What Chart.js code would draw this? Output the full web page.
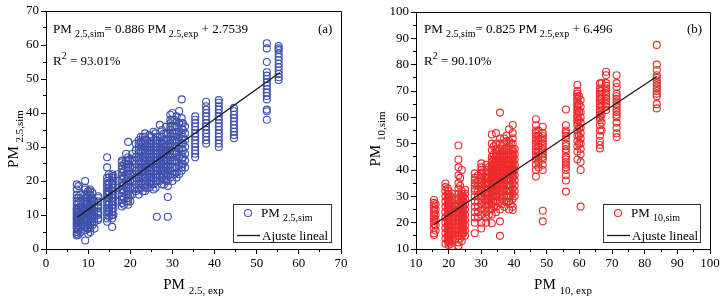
<!DOCTYPE html>
<html><head><meta charset="utf-8">
<script src="https://cdn.jsdelivr.net/npm/chart.js@4/dist/chart.umd.min.js"></script>
<style>
html,body{margin:0;padding:0;background:#fff;}
#wrap{position:relative;width:724px;height:302px;overflow:hidden;}
.c{position:absolute;top:0;width:362px;height:302px;}
</style></head><body>
<div id="wrap">
<div class="c" style="left:0"><canvas id="ca" width="362" height="302"></canvas></div>
<div class="c" style="left:362px"><canvas id="cb" width="362" height="302"></canvas></div>
</div>
<script>
// ---------- Panel (a): PM2.5 ----------
const pm25ExpCols = [7.3, 7.7, 9.3, 9.8, 10.5, 11, 12.4, 14.5, 15, 15.7, 16, 18, 18.5, 19.5, 20, 22, 22.5, 23.5, 24.5, 25.5, 26.3, 27, 28, 28.9, 29.5, 30, 31, 32.2, 33, 35.4, 38, 41, 44.6, 52.4, 55.2,
  8.2, 10, 11.5, 14.9, 17, 19, 20.5, 21.3, 23, 24, 25, 26, 27.5, 28.5, 30.5, 31.6, 32.5];
const pm25SimCols = [
  [4, 4.5, 5, 6, 6.5, 7, 7.5, 8, 8.5, 9, 9.5, 10, 10.5, 11, 11.5, 12, 13, 14, 15, 16, 17.5, 19],
  [4.2, 5.5, 7, 8, 9, 10, 11, 12, 13.5, 15, 18.5],
  [2.5, 5.5, 6.5, 7, 8, 8.5, 9, 9.5, 10, 10.5, 11, 11.5, 12, 12.5, 13, 14, 15, 16, 17.5, 18, 20],
  [6, 7, 8, 9, 10, 11, 12, 13, 14, 15, 16],
  [5, 6, 7, 8, 9, 9.5, 10, 10.5, 11, 12, 13, 14, 15, 16, 17, 17.5],
  [7, 8, 9, 10, 11, 12, 13, 14, 15, 16.5],
  [8.5, 9, 10, 10.5, 11, 12, 12.5, 13, 14, 15, 15.5],
  [8, 9, 10, 11, 12, 13, 14, 15, 16, 17, 18, 19, 20, 21, 24, 27],
  [9.5, 10.5, 12, 13.5, 15, 16.5, 18, 19.5, 21],
  [6.5, 9, 10, 11, 12, 13, 14, 15, 16, 17, 18, 19, 20, 21, 22],
  [10, 12, 14, 16, 18, 20, 21.5],
  [12.5, 13.5, 14.5, 15.5, 16.5, 17.5, 18.5, 19.5, 20.5, 21.5, 22.5, 23.5, 24.5, 25.5, 26],
  [13, 15, 17, 19, 21, 23, 25],
  [13, 14, 15, 16, 17, 18, 19, 20, 21, 22, 23, 24, 25, 26, 27, 31.5],
  [14, 16, 18, 20, 22, 24, 26.5],
  [16, 17.5, 18, 19, 20, 21, 22, 23, 24, 25, 26, 27, 28, 29, 30, 31, 32],
  [18, 19.5, 21, 22.5, 24, 25.5, 27, 28.5, 30, 31.5, 33],
  [17, 18, 19, 20, 21, 22, 23, 24, 25, 26, 27, 28, 29, 30, 31, 32, 33, 34],
  [18, 19.5, 21, 22, 23, 24, 25, 26, 27, 28, 29, 30, 31, 33.5],
  [17.5, 19, 20, 21, 22, 23, 24, 25, 26, 27, 28, 29, 30, 31, 32, 34.5],
  [9.5, 20, 21, 22, 23, 24, 25, 26, 27, 28, 29, 30, 31, 32, 33],
  [20, 21.5, 23, 24, 25, 26, 27, 28, 29, 30, 31.5, 33, 36.5],
  [19, 20.5, 22, 23, 24, 25, 26, 27, 28, 29, 30, 31, 32, 34],
  [9.5, 15.3, 18.5, 20, 21.5, 23, 24.5, 26, 27.5, 29, 30.5, 32, 34],
  [21, 22, 23, 24, 25, 26, 27, 28, 29, 30, 31, 32, 33, 34, 35, 36, 37, 38, 39.5],
  [20, 22, 24, 26, 28, 30, 32, 34, 36, 38, 40],
  [21, 22.5, 24, 25.5, 27, 28.5, 30, 31.5, 33, 34.5, 36, 37.5, 39],
  [23, 24, 25, 26.5, 28, 29.5, 31, 32.5, 34, 35.5, 37, 38.5, 44],
  [24, 26, 28, 30, 32, 34, 36],
  [27, 28, 29, 30, 31, 32, 33, 34, 35, 36, 37, 38, 39],
  [31, 32, 33, 34, 35, 36, 37, 38, 39, 40, 41, 42, 43.3],
  [30, 31, 32, 33, 34, 35, 36, 37, 38, 39, 40, 41, 42, 43, 43.8],
  [32.6, 33.5, 34.5, 35.5, 36.5, 37.5, 38.5, 39.5, 40.5, 41.5],
  [38, 40.5, 41, 44, 45, 46, 47, 48, 49, 50, 51, 52, 55, 59, 60.5],
  [49.7, 50.5, 51.5, 52.5, 53.5, 54.5, 55.5, 56.5, 57.5, 58.5, 59, 59.7],
  [5, 6.5, 8, 9.5, 11, 12.5, 14, 16],
  [4.5, 6, 7.5, 9, 10.5, 12, 13.5, 15, 17],
  [6, 8, 9.5, 11, 12.5, 14],
  [11, 13, 15, 17, 19, 22],
  [14, 16, 18, 20, 22],
  [14, 16, 18, 20, 22, 24, 26, 28],
  [16, 18, 20, 22, 24, 26, 28],
  [17, 19, 21, 23, 25, 27, 29, 31],
  [17, 19, 21, 23, 25, 27, 29, 31, 33],
  [18, 20, 22, 24, 26, 28, 30, 32],
  [19, 21, 23, 25, 27, 29, 31, 33],
  [18, 20, 22, 24, 26, 28, 30, 32, 34],
  [19, 21, 23, 25, 27, 29, 31, 33, 35],
  [20, 22, 24, 26, 28, 30, 32, 34, 36],
  [22, 24, 26, 28, 30, 32, 34, 36, 38],
  [22, 24.5, 27, 29.5, 32, 34.5, 37, 40.6],
  [25, 27, 29, 31, 33, 35, 37]
];
const pm25FitX = [7.4, 55.5];
const pm25FitY = [9.3, 51.9];
const pm25Ticks = [0, 10, 20, 30, 40, 50, 60, 70];

// ---------- Panel (b): PM10 ----------
const pm10ExpCols = [15.5, 19, 20, 21, 23, 24, 25, 28, 30, 31.5, 33.2, 34.5, 35.7, 37, 38.5, 39.6, 46.7, 48.8, 55.9, 59.4, 60.4, 66.3, 68.2, 71.4, 83.7,
  16, 19.7, 20.6, 22, 23.5, 24.5, 29, 32.3, 33.8, 36.3, 37.7, 39, 40.2, 47.5, 59.9, 66.8];
const pm10SimCols = [
  [15.3, 16, 18, 19.5, 20.5, 21.5, 22.5, 23.5, 24.5, 25.5, 26.5, 27.5, 28.6],
  [12, 14, 16, 18, 20, 22, 24, 26, 28, 30, 32, 33.5, 34.9],
  [11.5, 12.5, 13.5, 14.5, 15.5, 16.5, 17.5, 18.5, 19.5, 20.5, 21.5, 22.5, 23.5, 24.5, 25.5, 26.5, 27.5, 28.5, 29.5, 30.5, 32],
  [11, 13, 15, 17, 19, 21, 23, 25, 27, 29, 31],
  [11.2, 12.5, 15, 17, 19, 21, 23, 25, 27, 29, 31, 33, 35, 38, 41, 44, 49.3],
  [13, 15, 16, 17, 18, 19, 20, 21, 22, 23, 24, 25, 26, 27, 28, 29, 30, 31, 32, 40],
  [15, 17, 19, 21, 23, 25, 27, 29, 31, 32.5],
  [16, 20, 22, 24, 26, 28, 30, 32, 33, 34, 35, 36, 37, 38.7],
  [17.8, 20, 23, 25, 27, 29, 30, 31, 32, 33, 34, 35, 36, 37, 38, 39, 40, 41, 42.5],
  [20, 22, 24, 26, 27, 28, 29, 30, 31, 32, 33, 34, 35, 36, 37, 38, 40, 42],
  [19.8, 23, 25, 27, 29, 30, 31, 32, 33, 34, 35, 36, 37, 38, 39, 40, 41, 42, 43, 44, 45, 47.6, 50, 53.5],
  [24, 26, 28, 30, 31, 32, 33, 34, 35, 36, 37, 38, 39, 40, 41, 42, 43, 44, 45, 46, 47, 48, 50, 54],
  [15, 20.5, 25, 28, 30, 32, 34, 36, 38, 40, 42, 44, 46, 48, 50, 52, 61.8],
  [26, 28, 30, 32, 33, 34, 35, 36, 37, 38, 39, 40, 41, 42, 43, 44, 45, 46, 47, 48, 50, 52],
  [25, 28, 30, 32, 34, 36, 37, 38, 39, 40, 41, 42, 43, 44, 45, 47, 49, 51, 55.5],
  [24.8, 26, 29, 31, 33, 35, 37, 38, 39, 40, 41, 42, 43, 44, 45, 46, 47, 48, 50, 52, 54, 57.1],
  [37.5, 40, 42, 44, 45, 46, 47, 48, 49, 50, 51, 52, 53, 54, 55, 57, 59.3],
  [20.5, 24.5, 40, 42, 44, 45, 46, 47, 48, 49, 50, 51, 52, 53, 54, 56.4],
  [31.8, 36, 38, 40, 41, 42, 43, 44, 45, 47, 48, 49, 50, 52, 53, 54, 55, 57, 63],
  [44, 47, 49, 51, 53, 55, 57, 58, 59, 60, 61, 62, 63, 64, 65, 66, 67, 68, 69, 70, 72.3],
  [26.1, 40, 43, 46, 48, 50, 52, 54, 56, 58, 60, 62, 64, 66.6],
  [48.2, 49.5, 51, 53, 55, 57, 59, 60, 61, 62, 63, 64, 65, 66, 67, 68, 69, 70, 71, 72.9],
  [62.8, 64, 65, 66, 67, 68, 69, 70, 71, 72, 73, 76, 77.3],
  [52.5, 53.9, 56, 58, 60, 61, 62, 63, 64, 65, 66, 67, 68, 69, 71.5, 73, 76],
  [63.4, 65, 68, 69, 70, 71, 72, 73, 74, 75, 76, 78, 80, 87.5],
  [17, 19, 21, 23, 25, 27],
  [13, 15, 17, 19, 21, 23, 25, 27, 29, 31, 33],
  [12, 14, 16, 18, 20, 22, 24, 26, 28, 30],
  [14, 16, 18, 20, 22, 24, 26],
  [14, 16, 18, 20, 22, 24, 26, 28, 30, 34, 37],
  [16, 18, 20, 22, 24, 26, 28, 30],
  [22, 24, 26, 28, 30, 32, 34, 36, 38],
  [23, 25, 27, 29, 31, 33, 35, 37, 39, 41],
  [26, 28, 30, 32, 34, 36, 38, 40, 42, 44, 46, 49],
  [27, 29, 31, 33, 35, 37, 39, 41, 43, 45, 47, 49],
  [28, 30, 32, 34, 36, 38, 40, 42, 44, 46, 48, 51, 53],
  [27, 30, 32, 34, 36, 38, 40, 42, 44, 46, 48, 50],
  [30, 32, 34, 36, 38, 40, 42, 44, 46, 48],
  [41, 43, 45, 47, 49, 51, 53, 55],
  [50, 53, 56, 59, 62, 65, 68],
  [55, 58, 61, 64, 67, 70, 73]
];
const pm10FitX = [15.5, 83.7];
const pm10FitY = [19.3, 75.5];
const pm10Ticks = [10, 20, 30, 40, 50, 60, 70, 80, 90, 100];

const FONT = "'Liberation Serif', 'Times New Roman', serif";

function toPoints(xs, ys) {
  const out = [];
  xs.forEach((x, i) => ys[i].forEach(y => out.push({x: x, y: y})));
  return out;
}
function toLine(xs, ys) { return xs.map((x, i) => ({x: x, y: ys[i]})); }

function drawRich(ctx, x, y, parts, align) {
  let total = 0;
  parts.forEach(p => { ctx.font = p[1] + 'px ' + FONT; total += ctx.measureText(p[0]).width; });
  let cx = align === 'center' ? x - total / 2 : x;
  ctx.textAlign = 'left';
  ctx.textBaseline = 'alphabetic';
  parts.forEach(p => {
    ctx.font = p[1] + 'px ' + FONT;
    ctx.fillText(p[0], cx, y + (p[2] || 0));
    cx += ctx.measureText(p[0]).width;
  });
}
function alignPx(v) { return Math.round(v - 0.5) + 0.5; }

function makePanel(id, o) {
  const deco = {
    id: 'deco' + id,
    afterDraw(chart) {
      const ctx = chart.ctx, a = chart.chartArea;
      const sx = chart.scales.x, sy = chart.scales.y;
      ctx.save();
      ctx.strokeStyle = '#000'; ctx.lineWidth = 1;
      ctx.beginPath();
      ctx.moveTo(alignPx(a.left), alignPx(a.top)); ctx.lineTo(alignPx(a.right), alignPx(a.top));
      ctx.lineTo(alignPx(a.right), alignPx(a.bottom));
      ctx.stroke();
      ctx.beginPath();
      for (let i = 0; i < o.ticks.length - 1; i++) {
        const m = (o.ticks[i] + o.ticks[i + 1]) / 2;
        const px = alignPx(sx.getPixelForValue(m));
        ctx.moveTo(px, a.bottom); ctx.lineTo(px, a.bottom + 3);
        const py = alignPx(sy.getPixelForValue(m));
        ctx.moveTo(a.left, py); ctx.lineTo(a.left - 3, py);
      }
      ctx.stroke();
      ctx.fillStyle = '#000';
      drawRich(ctx, o.eqX, 33, [['PM ', 13], [o.eqSub1, 10, 4], ['= ' + o.slope + ' PM', 13], [' ' + o.eqSub2, 10, 4], [' + ' + o.icpt, 13]]);
      drawRich(ctx, o.eqX, 65, [['R', 13], ['2', 10, -6], [' = ' + o.r2, 13]]);
      drawRich(ctx, o.tagX, 33, [[o.tag, 13]]);
      drawRich(ctx, (a.left + a.right) / 2, 289, [['PM ', 15], [o.xSub, 11, 5]], 'center');
      ctx.save();
      ctx.translate(18, 139);
      ctx.rotate(-Math.PI / 2);
      drawRich(ctx, 0, 0, [['PM ', 15], [o.ySub, 11, 5]], 'center');
      ctx.restore();
      const L = o.leg;
      ctx.strokeStyle = '#333'; ctx.lineWidth = 1;
      ctx.strokeRect(L.x + 0.5, L.y + 0.5, L.w, L.h);
      ctx.strokeStyle = o.color; ctx.lineWidth = 1.1;
      ctx.beginPath(); ctx.arc(L.x + 15, L.y + 9, 3.5, 0, Math.PI * 2); ctx.stroke();
      ctx.fillStyle = '#000';
      drawRich(ctx, L.x + 28, L.y + 13, [['PM ', 13], [o.legSub, 10, 4]]);
      ctx.strokeStyle = '#1a1a1a'; ctx.lineWidth = 1.3;
      ctx.beginPath(); ctx.moveTo(L.x + 4, L.y + 31.5); ctx.lineTo(L.x + 27, L.y + 31.5); ctx.stroke();
      drawRich(ctx, L.x + 29, L.y + 35.5, [['Ajuste lineal', 13]]);
      ctx.restore();
    }
  };
  const tickFont = {family: FONT, size: 13};
  const axis = (min, max) => ({
    type: 'linear', min: min, max: max,
    afterBuildTicks: s => { s.ticks = o.ticks.map(v => ({value: v})); },
    ticks: {font: tickFont, color: '#000', padding: 2, maxRotation: 0, autoSkip: false, callback: v => String(v)},
    grid: {drawOnChartArea: false, drawTicks: true, tickLength: 5, color: '#000', lineWidth: 1},
    border: {display: true, color: '#000', width: 1}
  });
  const xs = axis(o.min, o.max); xs.position = 'bottom';
  xs.afterFit = s => { s.height = 53; };
  const ys = axis(o.min, o.max); ys.position = 'left';
  ys.afterFit = s => { s.width = o.yw; };
  return new Chart(document.getElementById(id), {
    type: 'scatter',
    data: {datasets: [
      {data: o.fit, showLine: true, borderColor: '#1a1a1a', borderWidth: 1.3, pointRadius: 0, order: 0},
      {data: o.pts, pointStyle: 'circle', pointRadius: 3.5, pointBorderWidth: 1.1, borderColor: o.color, backgroundColor: 'rgba(0,0,0,0)', pointBackgroundColor: 'rgba(0,0,0,0)', order: 1}
    ]},
    options: {
      responsive: false, animation: false, devicePixelRatio: 1,
      layout: {padding: {left: 0, top: o.top, right: o.right, bottom: 0}},
      plugins: {legend: {display: false}, tooltip: {enabled: false}},
      scales: {x: xs, y: ys}
    },
    plugins: [deco]
  });
}

makePanel('ca', {
  pts: toPoints(pm25ExpCols, pm25SimCols), fit: toLine(pm25FitX, pm25FitY), ticks: pm25Ticks,
  min: 0, max: 70, color: '#3f50ad', top: 11, right: 21, yw: 46,
  eqX: 53, eqSub1: '2.5,sim', eqSub2: '2.5,exp', slope: '0.886', icpt: '2.7539', r2: '93.01%',
  tag: '(a)', tagX: 318, xSub: '2.5, exp', ySub: '2.5,sim', legSub: '2.5,sim',
  leg: {x: 233, y: 204, w: 98, h: 38}
});
makePanel('cb', {
  pts: toPoints(pm10ExpCols, pm10SimCols), fit: toLine(pm10FitX, pm10FitY), ticks: pm10Ticks,
  min: 10, max: 100, color: '#ec2b2b', top: 12, right: 14, yw: 54,
  eqX: 62, eqSub1: '2.5,sim', eqSub2: '2.5,exp', slope: '0.825', icpt: '6.496', r2: '90.10%',
  tag: '(b)', tagX: 325, xSub: '10, exp', ySub: '10,sim', legSub: '10,sim',
  leg: {x: 241, y: 204, w: 97, h: 38}
});
</script>
</body></html>
